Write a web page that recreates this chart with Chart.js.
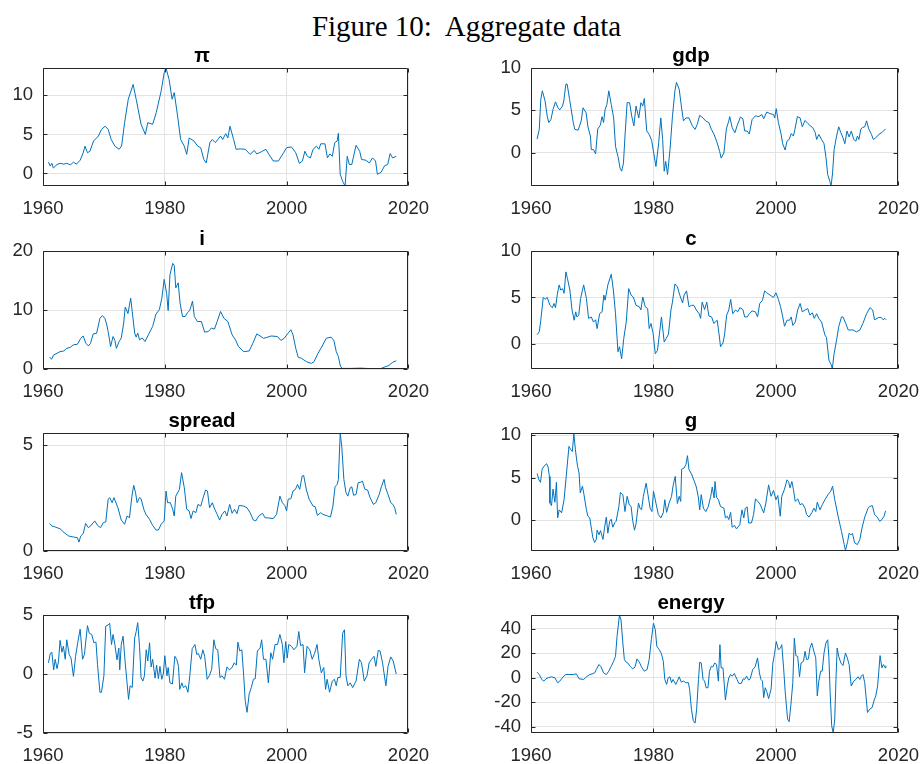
<!DOCTYPE html>
<html>
<head>
<meta charset="utf-8">
<title>Figure 10: Aggregate data</title>
<script src="https://cdn.jsdelivr.net/npm/chart.js@4.4.1/dist/chart.umd.min.js"></script>
<style>
  body { margin: 0; background: #fff; width: 924px; height: 764px; position: relative; overflow: hidden; }
  #figTitle {
    position: absolute; left: 0; top: 12px; width: 933px; text-align: center;
    font-family: "Liberation Serif", serif; font-size: 29px; line-height: 29px; color: #000;
  }
  canvas { position: absolute; }
</style>
</head>
<body>
<div id="figTitle">Figure 10:&nbsp; Aggregate data</div>
<script>
// x axis (years) shared by every panel
const xTicks = [1960, 1980, 2000, 2020];
const xRange = [1960, 2020];

// inflation
const piData = [[1960.9,1.45],[1961.2,0.95],[1961.45,1.3],[1961.7,0.7],[1962.3,1.15],[1962.8,1.3],[1963.4,1.2],[1963.9,1.3],[1964.5,1.1],[1965.0,1.45],[1965.5,1.2],[1966.1,1.7],[1966.6,2.65],[1966.9,3.5],[1967.3,2.65],[1967.7,2.85],[1968.3,4.15],[1969.1,4.8],[1969.6,5.65],[1970.2,6.05],[1970.7,5.65],[1971.2,4.35],[1971.8,3.5],[1972.5,3.1],[1972.9,3.5],[1973.4,6.5],[1974.0,9.5],[1974.8,11.4],[1975.3,9.5],[1976.1,6.3],[1976.8,5.0],[1977.2,6.5],[1978.0,6.3],[1978.6,7.8],[1979.4,10.55],[1979.9,12.9],[1980.2,13.5],[1980.7,12.05],[1981.2,9.5],[1981.55,10.35],[1982.1,7.35],[1982.6,4.35],[1983.2,3.5],[1983.6,2.45],[1984.0,4.55],[1984.8,4.15],[1985.4,3.5],[1985.9,3.3],[1986.4,1.8],[1986.8,1.35],[1987.4,3.95],[1987.8,4.35],[1988.3,3.95],[1989.15,4.8],[1989.5,4.35],[1990.0,5.1],[1990.35,4.55],[1990.7,6.05],[1991.3,4.35],[1991.7,3.1],[1992.4,3.15],[1993.2,3.1],[1994.0,2.45],[1994.7,2.95],[1995.1,2.5],[1995.9,2.8],[1996.6,3.1],[1997.1,2.45],[1997.8,1.6],[1998.65,1.6],[1999.5,2.65],[2000.0,3.3],[2000.8,3.4],[2001.5,2.65],[2002.1,1.3],[2002.6,1.6],[2003.0,2.85],[2003.4,2.2],[2003.9,2.0],[2004.35,3.1],[2004.9,3.5],[2005.3,3.1],[2005.6,3.8],[2006.3,3.8],[2006.7,2.0],[2007.1,2.5],[2007.5,2.2],[2007.9,3.95],[2008.3,4.15],[2008.5,5.15],[2008.8,-0.1],[2009.2,-1.0],[2009.6,-1.6],[2009.95,2.2],[2010.3,1.15],[2010.7,1.15],[2011.4,3.6],[2012.0,2.85],[2012.3,1.8],[2013.0,1.7],[2013.6,1.35],[2014.1,2.0],[2014.6,1.6],[2014.9,-0.1],[2015.5,0.15],[2016.1,1.0],[2016.6,1.15],[2017.0,2.55],[2017.4,2.0],[2018.0,2.2]];
const piTicks = [0, 5, 10];
const piRange = [-1.6, 13.5];

// output growth
const gdpData = [[1961.0,1.6],[1961.35,2.75],[1961.6,6.3],[1961.85,7.3],[1962.3,6.1],[1962.65,4.3],[1962.9,3.55],[1963.25,3.9],[1963.6,5.1],[1964.0,6.0],[1964.4,5.3],[1964.7,5.05],[1965.15,5.5],[1965.35,6.1],[1965.7,8.1],[1965.9,8.1],[1966.3,6.3],[1966.9,3.55],[1967.15,2.75],[1967.7,2.65],[1968.2,3.75],[1968.5,5.3],[1969.0,4.7],[1969.3,3.05],[1969.7,1.95],[1969.85,0.35],[1970.2,0.35],[1970.55,-0.15],[1970.9,2.8],[1971.3,3.2],[1971.6,4.25],[1971.85,3.55],[1972.1,5.1],[1972.4,5.7],[1972.7,7.3],[1973.1,5.7],[1973.5,4.1],[1973.8,0.75],[1974.2,-0.45],[1974.55,-1.85],[1974.8,-2.2],[1975.1,-1.25],[1975.35,1.95],[1975.7,5.9],[1976.1,5.9],[1976.45,4.3],[1976.8,3.15],[1977.15,5.5],[1977.6,4.1],[1977.95,5.9],[1978.25,5.5],[1978.5,6.4],[1978.9,2.55],[1979.3,2.15],[1979.7,1.45],[1980.4,-1.65],[1980.85,1.15],[1981.2,4.1],[1981.5,1.55],[1981.75,-2.2],[1982.0,-1.05],[1982.3,-2.6],[1982.7,0.35],[1983.1,4.3],[1983.5,7.3],[1983.75,8.3],[1984.2,7.5],[1984.55,5.5],[1984.9,3.75],[1985.3,4.1],[1985.8,4.1],[1986.35,3.15],[1986.8,2.75],[1987.15,3.35],[1987.55,4.4],[1988.1,4.1],[1988.5,3.75],[1989.05,3.55],[1989.45,2.75],[1989.9,2.15],[1990.4,1.15],[1990.8,0.15],[1991.05,-0.65],[1991.5,-0.05],[1991.9,2.8],[1992.3,3.75],[1992.45,4.25],[1992.85,2.95],[1993.3,2.35],[1993.65,3.15],[1994.2,4.2],[1994.6,4.0],[1994.9,2.55],[1995.3,2.55],[1995.65,2.2],[1996.1,3.9],[1996.65,4.35],[1997.2,4.25],[1997.7,4.5],[1998.0,4.0],[1998.5,4.8],[1999.05,4.6],[1999.6,4.5],[1999.8,4.1],[2000.05,5.2],[2000.4,3.55],[2000.85,2.15],[2001.1,1.05],[2001.5,0.3],[2001.8,1.35],[2002.15,1.55],[2002.5,2.25],[2002.85,1.95],[2003.1,2.75],[2003.5,4.25],[2003.95,4.1],[2004.3,3.05],[2004.75,3.8],[2005.2,3.45],[2005.55,3.2],[2006.0,2.95],[2006.4,2.4],[2006.65,1.55],[2007.0,2.15],[2007.45,1.55],[2007.85,1.05],[2008.15,-0.45],[2008.45,-2.6],[2008.8,-3.4],[2009.0,-3.95],[2009.25,-2.4],[2009.5,0.35],[2009.9,1.95],[2010.25,3.05],[2010.6,2.35],[2010.95,1.75],[2011.25,1.05],[2011.6,2.55],[2011.95,1.85],[2012.3,2.55],[2012.7,1.55],[2013.05,1.35],[2013.3,1.95],[2013.55,1.55],[2013.85,2.75],[2014.1,2.95],[2014.5,3.05],[2014.8,3.75],[2015.15,2.8],[2015.6,2.15],[2015.9,1.55],[2016.3,1.75],[2016.8,2.15],[2017.35,2.4],[2017.9,2.8]];
const gdpTicks = [0, 5, 10];
const gdpRange = [-3.95, 10];

// interest rate
const iData = [[1961.1,2.0],[1961.4,1.65],[1961.75,2.4],[1962.3,2.65],[1962.8,2.95],[1963.4,3.05],[1963.9,3.5],[1964.45,3.65],[1965.0,4.1],[1965.65,4.2],[1966.2,5.2],[1966.6,5.6],[1967.05,4.35],[1967.45,3.9],[1967.8,4.35],[1968.25,5.95],[1968.8,6.05],[1969.35,8.6],[1969.75,9.05],[1970.15,8.6],[1970.4,7.8],[1970.7,6.35],[1971.1,3.8],[1971.5,5.5],[1971.8,4.85],[1972.05,3.5],[1972.5,4.65],[1972.85,5.25],[1973.25,7.8],[1973.5,10.5],[1973.95,9.4],[1974.4,12.0],[1974.65,9.75],[1975.05,6.1],[1975.3,5.4],[1975.55,6.1],[1975.85,4.95],[1976.3,5.25],[1976.75,4.65],[1977.3,5.8],[1978.0,7.2],[1978.55,9.3],[1979.1,10.05],[1979.5,11.9],[1979.9,15.2],[1980.3,12.8],[1980.55,9.9],[1980.85,16.0],[1981.3,17.9],[1981.55,17.55],[1981.8,13.75],[1982.2,14.6],[1982.5,11.2],[1982.9,8.9],[1983.35,8.9],[1983.7,9.5],[1984.1,9.95],[1984.55,11.5],[1984.85,8.9],[1985.35,8.05],[1986.0,8.05],[1986.55,6.25],[1987.15,6.35],[1987.65,6.95],[1988.15,6.75],[1988.6,8.05],[1989.15,9.75],[1989.7,8.6],[1990.35,8.05],[1991.05,5.8],[1991.6,4.95],[1992.1,3.8],[1992.95,2.95],[1993.85,3.05],[1994.45,4.35],[1995.1,5.95],[1995.65,5.6],[1996.2,5.2],[1996.75,5.35],[1997.45,5.6],[1998.5,5.5],[1999.05,4.85],[1999.6,5.2],[2000.15,5.95],[2000.7,6.65],[2001.05,5.8],[2001.5,3.5],[2001.9,2.0],[2002.45,1.8],[2003.25,1.25],[2004.05,0.95],[2004.5,1.25],[2005.15,2.65],[2005.85,3.9],[2006.5,5.2],[2007.3,5.4],[2007.75,4.85],[2008.15,2.95],[2008.5,2.1],[2008.85,0.4],[2009.2,0.1],[2010.55,0.1],[2012.2,0.15],[2013.8,0.06],[2015.45,0.06],[2016.0,0.3],[2016.8,0.6],[2017.35,1.1],[2018.0,1.4]];
const iTicks = [0, 10, 20];
const iRange = [0, 20];

// consumption growth
const cData = [[1961.0,1.0],[1961.35,1.3],[1961.6,2.55],[1962.0,5.0],[1962.3,4.8],[1962.65,5.0],[1963.1,4.15],[1963.5,3.9],[1963.75,4.35],[1964.0,3.9],[1964.3,5.35],[1964.6,6.35],[1964.85,5.8],[1965.15,5.95],[1965.4,5.45],[1965.7,7.75],[1965.95,7.05],[1966.35,5.8],[1966.7,3.65],[1967.05,2.55],[1967.3,3.45],[1967.5,2.9],[1967.8,3.1],[1968.1,4.9],[1968.6,6.35],[1969.05,4.9],[1969.4,2.75],[1969.85,2.9],[1970.2,2.35],[1970.55,2.6],[1970.8,1.65],[1971.2,3.25],[1971.6,3.45],[1971.9,5.25],[1972.1,4.7],[1972.55,6.35],[1973.1,7.5],[1973.45,5.8],[1973.8,3.25],[1974.2,-0.85],[1974.45,-0.3],[1974.8,-1.6],[1975.15,0.6],[1975.55,2.35],[1975.95,5.95],[1976.35,5.25],[1976.7,5.05],[1977.15,4.15],[1977.7,4.0],[1977.95,3.65],[1978.25,5.05],[1978.65,4.0],[1979.05,3.8],[1979.3,1.65],[1979.6,2.2],[1979.95,1.1],[1980.3,-1.05],[1980.65,-0.7],[1981.05,1.5],[1981.3,2.9],[1981.75,0.2],[1982.1,0.6],[1982.45,1.05],[1982.85,3.65],[1983.1,4.5],[1983.5,6.45],[1983.9,6.15],[1984.3,5.25],[1984.75,4.4],[1985.0,5.25],[1985.4,5.7],[1985.8,4.0],[1986.2,4.15],[1986.6,4.15],[1987.0,3.65],[1987.45,3.25],[1987.7,2.75],[1987.95,4.5],[1988.35,3.7],[1988.7,4.5],[1989.05,3.0],[1989.5,2.9],[1989.85,2.2],[1990.4,2.55],[1990.7,1.1],[1990.95,-0.3],[1991.35,0.1],[1991.6,0.95],[1991.95,3.1],[1992.3,3.65],[1992.6,4.8],[1992.95,3.25],[1993.4,3.65],[1993.75,3.45],[1994.1,3.9],[1994.6,3.7],[1994.9,2.9],[1995.3,2.9],[1995.65,3.25],[1996.1,3.55],[1996.65,3.45],[1997.0,2.9],[1997.35,4.35],[1997.8,4.7],[1998.15,5.7],[1998.5,5.5],[1999.05,5.25],[1999.6,5.0],[2000.0,5.5],[2000.4,4.8],[2000.75,4.0],[2001.05,3.1],[2001.4,1.9],[2001.8,2.55],[2002.2,2.55],[2002.5,2.9],[2002.75,2.0],[2003.15,2.35],[2003.55,3.65],[2003.95,4.35],[2004.3,3.45],[2004.75,3.65],[2005.2,3.8],[2005.55,3.1],[2005.95,3.35],[2006.25,2.75],[2006.65,3.25],[2007.0,2.75],[2007.45,2.35],[2008.0,0.95],[2008.25,0.7],[2008.65,-1.75],[2009.0,-2.2],[2009.2,-2.65],[2009.5,-1.05],[2009.9,0.4],[2010.25,1.85],[2010.7,2.9],[2010.95,2.9],[2011.4,2.2],[2011.8,1.5],[2012.6,1.5],[2013.15,1.3],[2013.7,1.5],[2014.2,2.2],[2014.8,3.25],[2015.35,3.9],[2015.8,3.65],[2016.1,2.6],[2016.8,2.85],[2017.2,2.85],[2017.5,2.6],[2017.8,2.75],[2018.0,2.6]];
const cTicks = [0, 5, 10];
const cRange = [-2.7, 10];

// credit spread
const spreadData = [[1961.1,1.3],[1961.45,1.18],[1961.85,1.15],[1962.3,1.1],[1962.8,1.05],[1963.5,0.86],[1964.2,0.71],[1965.0,0.66],[1965.65,0.63],[1965.9,0.42],[1966.2,0.71],[1966.6,0.82],[1967.0,1.3],[1967.45,1.1],[1967.8,1.18],[1968.5,1.42],[1968.95,1.21],[1969.45,1.1],[1969.9,1.34],[1970.3,1.37],[1970.7,2.44],[1970.95,2.52],[1971.35,2.28],[1971.65,2.52],[1972.3,2.04],[1972.85,1.46],[1973.4,1.26],[1973.8,1.65],[1974.2,1.57],[1974.6,2.59],[1974.9,3.1],[1975.2,2.75],[1975.45,2.28],[1975.85,2.52],[1976.1,2.47],[1976.55,1.97],[1976.9,1.73],[1977.5,1.49],[1978.0,1.21],[1978.55,0.99],[1978.95,0.99],[1979.4,1.26],[1979.9,1.42],[1980.2,2.83],[1980.45,2.28],[1980.9,2.28],[1981.3,1.97],[1981.55,1.65],[1981.8,2.59],[1982.4,2.91],[1982.75,3.7],[1983.2,2.99],[1983.6,1.97],[1984.0,1.89],[1984.3,1.53],[1984.65,1.89],[1985.1,1.81],[1985.45,2.2],[1985.9,2.12],[1986.3,2.52],[1986.7,2.88],[1987.0,2.83],[1987.35,2.04],[1987.8,2.28],[1988.2,1.97],[1988.6,1.73],[1989.0,1.46],[1989.4,1.73],[1989.85,1.89],[1990.2,1.65],[1990.65,2.2],[1991.05,1.78],[1991.45,1.97],[1991.85,1.76],[1992.2,2.15],[1992.95,2.12],[1993.5,2.04],[1994.0,1.81],[1994.55,1.46],[1994.95,1.42],[1995.4,1.65],[1996.05,1.78],[1996.45,1.57],[1997.0,1.56],[1997.8,1.53],[1998.35,1.73],[1998.9,2.59],[1999.3,2.28],[1999.7,2.15],[2000.0,1.89],[2000.25,2.44],[2000.7,2.47],[2001.05,2.83],[2001.45,2.91],[2001.8,3.14],[2002.15,2.91],[2002.55,3.54],[2002.8,3.57],[2003.25,2.88],[2003.7,2.44],[2004.35,2.12],[2004.7,2.09],[2005.05,1.68],[2005.6,1.81],[2005.95,1.73],[2006.75,1.65],[2007.2,1.6],[2007.6,2.12],[2007.95,3.03],[2008.3,3.14],[2008.5,3.38],[2008.8,5.57],[2009.05,4.95],[2009.4,3.38],[2009.75,2.75],[2010.05,2.59],[2010.45,2.99],[2010.7,3.03],[2011.0,2.63],[2011.4,2.67],[2011.75,3.22],[2012.2,3.25],[2012.45,3.3],[2012.85,2.91],[2013.3,2.88],[2013.7,2.52],[2014.25,2.2],[2014.65,2.28],[2015.2,2.67],[2015.55,3.03],[2016.0,3.38],[2016.25,2.99],[2016.65,2.67],[2017.1,2.28],[2017.45,2.2],[2017.75,2.04],[2018.0,1.73]];
const spreadTicks = [0, 5];
const spreadRange = [0, 5.57];

// government spending growth
const gData = [[1961.0,5.5],[1961.3,4.75],[1961.55,4.45],[1961.8,5.95],[1962.1,6.35],[1962.55,6.65],[1962.8,6.25],[1963.0,5.15],[1963.1,2.0],[1963.35,1.7],[1963.6,3.65],[1963.9,2.1],[1964.15,4.45],[1964.35,0.25],[1964.6,1.2],[1965.0,0.85],[1965.4,2.4],[1965.8,5.55],[1966.2,8.7],[1966.5,8.3],[1966.75,8.1],[1967.0,10.2],[1967.25,8.3],[1967.6,6.35],[1967.85,5.55],[1968.05,3.2],[1968.4,4.0],[1968.65,3.0],[1969.05,1.2],[1969.3,0.45],[1969.6,0.25],[1969.85,-0.95],[1970.1,-2.1],[1970.4,-2.65],[1970.65,-2.3],[1970.8,-1.2],[1971.1,-1.75],[1971.35,-1.25],[1971.75,-2.3],[1972.0,-0.95],[1972.3,0.35],[1972.55,-1.55],[1972.85,-0.15],[1973.1,0.1],[1973.35,-0.85],[1973.7,-0.3],[1973.9,-0.15],[1974.35,1.6],[1974.6,3.25],[1975.0,3.0],[1975.35,1.0],[1975.7,2.8],[1976.05,1.8],[1976.35,1.6],[1976.6,-0.05],[1976.9,-1.2],[1977.15,-0.45],[1977.55,2.0],[1977.8,1.4],[1978.05,1.2],[1978.35,2.8],[1978.8,4.35],[1979.1,3.0],[1979.45,1.4],[1979.75,1.0],[1980.0,3.4],[1980.4,2.0],[1980.8,0.65],[1981.2,0.25],[1981.6,0.85],[1981.85,2.4],[1982.15,0.9],[1982.55,2.0],[1982.95,2.8],[1983.2,4.05],[1983.55,5.15],[1983.9,1.95],[1984.2,2.8],[1984.45,2.2],[1984.6,6.0],[1985.0,6.15],[1985.3,6.55],[1985.55,7.6],[1985.8,5.95],[1986.2,5.45],[1986.6,4.7],[1987.0,3.9],[1987.35,2.6],[1987.55,1.2],[1987.8,3.0],[1988.15,1.4],[1988.55,1.0],[1988.95,1.6],[1989.35,2.8],[1989.6,3.9],[1989.9,2.6],[1990.05,4.55],[1990.3,2.7],[1990.6,2.4],[1990.95,1.6],[1991.5,1.4],[1991.75,0.25],[1992.05,0.45],[1992.3,0.05],[1992.6,0.9],[1992.85,-0.85],[1993.25,-0.65],[1993.55,-1.05],[1994.1,-0.55],[1994.45,1.2],[1994.75,0.25],[1995.0,1.4],[1995.3,1.55],[1995.55,-0.35],[1996.0,-0.35],[1996.35,0.65],[1996.65,2.5],[1997.05,2.2],[1997.45,1.8],[1998.0,0.85],[1998.35,2.0],[1998.8,4.15],[1999.2,2.8],[1999.6,3.5],[2000.0,2.4],[2000.3,2.9],[2000.7,0.45],[2000.95,2.8],[2001.4,3.65],[2001.8,4.75],[2002.05,4.55],[2002.3,3.8],[2002.6,4.55],[2002.85,3.6],[2003.15,2.2],[2003.55,2.5],[2003.95,1.8],[2004.3,1.95],[2004.75,1.4],[2005.0,0.65],[2005.4,0.35],[2005.85,0.85],[2006.2,1.4],[2006.5,1.0],[2006.75,2.1],[2007.2,1.2],[2007.55,1.8],[2008.0,2.4],[2008.55,3.05],[2008.95,3.4],[2009.25,4.0],[2009.6,2.4],[2010.15,0.45],[2010.7,-1.35],[2011.15,-2.9],[2011.35,-3.6],[2011.7,-2.55],[2011.95,-1.55],[2012.2,-1.75],[2012.5,-1.6],[2012.85,-2.7],[2013.3,-2.9],[2013.7,-2.3],[2014.05,-0.95],[2014.5,0.35],[2015.05,1.4],[2015.3,1.6],[2015.75,1.7],[2016.1,0.65],[2016.55,0.35],[2016.95,-0.15],[2017.3,0.05],[2017.65,0.45],[2017.9,1.1]];
const gTicks = [0, 5, 10];
const gRange = [-3.66, 10.28];

// total factor productivity growth
const tfpData = [[1960.9,0.95],[1961.2,1.75],[1961.45,1.85],[1961.75,0.35],[1962.0,1.25],[1962.3,0.45],[1962.55,1.1],[1962.8,2.85],[1963.1,1.85],[1963.35,2.35],[1963.65,1.25],[1963.9,2.9],[1964.3,1.65],[1964.6,1.35],[1965.0,-0.2],[1965.35,1.5],[1965.7,2.65],[1966.1,3.8],[1966.5,1.25],[1966.8,1.65],[1967.3,4.1],[1967.6,3.45],[1968.0,3.35],[1968.35,2.65],[1968.7,2.7],[1968.95,0.8],[1969.35,-1.55],[1969.6,-1.55],[1970.0,-0.15],[1970.3,4.05],[1970.7,4.15],[1970.95,4.3],[1971.25,2.5],[1971.5,3.35],[1971.8,2.5],[1972.15,1.2],[1972.45,2.2],[1972.6,0.35],[1972.85,2.5],[1973.15,3.2],[1973.5,0.95],[1973.8,-0.75],[1974.05,-2.15],[1974.3,-1.0],[1974.65,-1.15],[1975.05,3.05],[1975.3,3.6],[1975.55,4.35],[1975.85,2.35],[1976.1,-0.3],[1976.4,-0.6],[1976.65,-0.15],[1976.95,2.05],[1977.2,1.1],[1977.5,2.65],[1977.75,0.6],[1978.0,1.25],[1978.4,-0.35],[1978.65,0.75],[1978.95,-0.4],[1979.2,0.65],[1979.5,-0.45],[1979.75,0.0],[1980.0,1.55],[1980.35,-0.15],[1980.55,0.55],[1980.85,-0.75],[1981.25,-0.85],[1981.65,1.5],[1981.95,1.25],[1982.25,0.65],[1982.45,-1.3],[1982.8,-0.75],[1983.05,-1.15],[1983.45,-1.0],[1983.8,-1.55],[1984.1,-0.15],[1984.5,2.15],[1984.95,2.5],[1985.25,1.65],[1985.5,1.75],[1985.9,1.25],[1986.25,2.05],[1986.55,1.5],[1986.95,-0.45],[1987.35,-0.1],[1987.7,0.4],[1988.05,2.9],[1988.35,2.15],[1988.7,2.05],[1989.05,-0.3],[1989.4,-0.15],[1989.8,-0.45],[1990.2,0.6],[1990.6,0.35],[1991.05,0.55],[1991.4,0.95],[1991.75,0.75],[1992.0,2.7],[1992.3,1.95],[1992.65,2.05],[1992.95,-0.15],[1993.2,-2.25],[1993.5,-3.25],[1993.85,-1.7],[1994.2,-1.15],[1994.55,-0.45],[1994.85,-0.4],[1995.2,1.95],[1995.65,2.2],[1995.9,2.9],[1996.2,1.25],[1996.6,1.25],[1997.0,-0.75],[1997.4,1.8],[1997.7,1.25],[1998.1,2.5],[1998.5,2.5],[1998.9,3.35],[1999.3,2.5],[1999.55,0.95],[1999.85,2.75],[2000.1,1.35],[2000.35,2.5],[2000.8,2.35],[2001.2,2.05],[2001.7,2.35],[2002.0,3.6],[2002.3,2.4],[2002.7,2.5],[2002.95,0.1],[2003.35,2.35],[2003.8,2.05],[2004.2,1.25],[2004.6,1.75],[2005.0,2.5],[2005.3,1.2],[2005.7,0.1],[2006.1,0.55],[2006.4,-1.3],[2006.65,-0.45],[2007.05,-1.55],[2007.5,-0.6],[2007.85,-0.45],[2008.15,-1.0],[2008.4,-0.3],[2008.8,-0.3],[2009.2,3.45],[2009.5,3.75],[2009.75,-0.15],[2010.05,-1.0],[2010.45,-0.75],[2010.85,-1.15],[2011.4,-0.6],[2011.95,1.25],[2012.3,0.95],[2012.75,-0.6],[2013.2,-0.15],[2013.55,0.95],[2013.95,1.25],[2014.35,1.5],[2014.65,0.65],[2015.05,2.0],[2015.35,1.95],[2015.75,0.95],[2016.3,-1.0],[2016.65,0.65],[2017.1,1.45],[2017.5,1.1],[2018.0,0.0]];
const tfpTicks = [-5, 0, 5];
const tfpRange = [-5, 5];

// energy prices
const energyData = [[1961.0,4.6],[1961.35,2.7],[1961.75,-1.35],[1962.1,-2.7],[1962.45,-0.8],[1962.8,0.0],[1963.35,0.8],[1963.9,0.0],[1964.35,-4.0],[1964.7,-2.7],[1965.25,0.8],[1965.7,2.7],[1966.35,2.7],[1966.9,2.7],[1967.4,3.2],[1967.85,-0.8],[1968.6,-1.35],[1969.05,0.8],[1969.6,2.7],[1970.0,3.2],[1970.4,4.0],[1970.65,6.7],[1971.1,10.8],[1971.45,8.9],[1971.85,4.0],[1972.3,2.7],[1972.7,5.4],[1973.1,9.4],[1973.5,13.5],[1973.8,17.5],[1974.05,33.7],[1974.45,51.2],[1974.7,47.2],[1975.0,28.3],[1975.25,14.8],[1975.55,12.7],[1975.8,12.1],[1976.2,9.4],[1976.6,7.3],[1977.0,8.9],[1977.3,15.4],[1977.7,12.7],[1978.05,8.9],[1978.5,5.4],[1978.95,6.7],[1979.3,14.8],[1979.65,31.0],[1980.0,44.5],[1980.3,39.1],[1980.55,25.6],[1980.95,22.9],[1981.3,19.7],[1981.6,13.5],[1981.85,-1.35],[1982.15,-5.4],[1982.4,0.0],[1982.7,0.8],[1982.95,-4.0],[1983.2,-1.35],[1983.65,-5.4],[1983.9,-2.7],[1984.2,0.8],[1984.55,-3.5],[1984.9,-2.7],[1985.3,-4.0],[1985.7,-4.0],[1985.9,-9.4],[1986.2,-25.6],[1986.5,-35.0],[1986.8,-36.9],[1987.05,-25.6],[1987.35,-1.35],[1987.55,12.7],[1987.8,12.1],[1988.1,-1.35],[1988.35,-2.7],[1988.6,-8.1],[1988.9,-8.1],[1989.15,5.4],[1989.45,9.4],[1989.7,8.9],[1990.0,12.1],[1990.3,10.8],[1990.6,-2.7],[1990.85,27.0],[1991.05,8.1],[1991.35,8.1],[1991.75,-18.1],[1992.05,-6.7],[1992.3,0.0],[1992.6,2.7],[1992.85,1.35],[1993.2,3.5],[1993.65,-1.35],[1993.95,-4.6],[1994.35,-4.6],[1994.65,-0.8],[1994.9,-1.35],[1995.2,1.35],[1995.55,-1.9],[1995.8,-0.8],[1996.2,6.7],[1996.6,8.9],[1997.0,16.2],[1997.3,4.0],[1997.55,-1.35],[1997.8,-2.7],[1998.0,-16.2],[1998.25,-8.1],[1998.55,-12.1],[1998.8,-17.0],[1999.2,-9.4],[1999.5,12.1],[1999.75,18.9],[2000.05,29.6],[2000.4,22.9],[2000.75,24.3],[2000.95,27.0],[2001.25,8.1],[2001.5,-10.8],[2001.9,-33.7],[2002.15,-35.8],[2002.45,-21.6],[2002.75,-4.0],[2003.0,32.3],[2003.25,18.1],[2003.55,17.5],[2003.85,0.8],[2004.1,12.1],[2004.5,13.5],[2004.75,21.6],[2005.0,14.8],[2005.3,15.4],[2005.55,24.3],[2005.85,28.3],[2006.2,21.6],[2006.5,16.2],[2006.75,-14.8],[2007.0,-2.7],[2007.3,5.4],[2007.55,5.4],[2007.85,20.2],[2008.15,28.3],[2008.45,31.0],[2008.65,16.2],[2008.85,-12.1],[2009.1,-39.1],[2009.35,-45.0],[2009.6,-33.7],[2009.8,-1.35],[2010.0,24.3],[2010.25,17.5],[2010.6,12.1],[2010.95,10.0],[2011.35,20.2],[2011.65,16.2],[2011.95,10.8],[2012.3,-6.7],[2012.7,-2.7],[2013.05,-1.35],[2013.4,0.8],[2013.7,-1.35],[2013.95,1.35],[2014.2,2.7],[2014.5,-4.0],[2014.95,-28.3],[2015.3,-25.6],[2015.7,-24.3],[2016.05,-18.1],[2016.3,-14.8],[2016.6,-6.7],[2016.8,5.4],[2017.0,18.1],[2017.3,8.1],[2017.55,10.8],[2017.85,8.1],[2017.95,10.0]];
const energyTicks = [-40, -20, 0, 20, 40];
const energyRange = [-45, 51.2];

// layout of the 4x2 grid of axes (page pixels)
const colLeft = [43, 531];
const colWidth = [368, 370];
const rowTop = [68, 251, 433, 615];
const plotHeight = 118;
const yAxisWidth = 50;
const titleBlock = 40;
const xAxisHeight = 45;
const rightPad = 30;

const panels = [
  { title: "\u03c0", data: piData, ticks: piTicks, range: piRange, row: 0, col: 0 },
  { title: "gdp", data: gdpData, ticks: gdpTicks, range: gdpRange, row: 0, col: 1 },
  { title: "i", data: iData, ticks: iTicks, range: iRange, row: 1, col: 0 },
  { title: "c", data: cData, ticks: cTicks, range: cRange, row: 1, col: 1 },
  { title: "spread", data: spreadData, ticks: spreadTicks, range: spreadRange, row: 2, col: 0 },
  { title: "g", data: gData, ticks: gTicks, range: gRange, row: 2, col: 1 },
  { title: "tfp", data: tfpData, ticks: tfpTicks, range: tfpRange, row: 3, col: 0 },
  { title: "energy", data: energyData, ticks: energyTicks, range: energyRange, row: 3, col: 1 },
];

const axisColor = "#262626";
const gridColor = "#e3e3e3";
const lineColor = "#0072BD";
const tickFont = { family: "'Liberation Sans', Arial, sans-serif", size: 18.5 };

// box around the axes with inward tick marks, like MATLAB
const boxPlugin = {
  id: "matlabBox",
  afterDatasetsDraw(chart) {
    const { ctx, chartArea, scales } = chart;
    const left = Math.round(chartArea.left) + 0.5;
    const right = Math.round(chartArea.right) - 0.5;
    const top = Math.round(chartArea.top) + 0.5;
    const bottom = Math.round(chartArea.bottom) - 0.5;
    ctx.save();
    ctx.strokeStyle = axisColor;
    ctx.lineWidth = 1;
    ctx.beginPath();
    ctx.rect(left, top, right - left, bottom - top);
    scales.x.ticks.forEach((t) => {
      const px = Math.round(scales.x.getPixelForValue(t.value)) + 0.5;
      ctx.moveTo(px, bottom);
      ctx.lineTo(px, bottom - 4);
      ctx.moveTo(px, top);
      ctx.lineTo(px, top + 4);
    });
    scales.y.ticks.forEach((t) => {
      const py = Math.round(scales.y.getPixelForValue(t.value)) + 0.5;
      ctx.moveTo(left, py);
      ctx.lineTo(left + 4, py);
      ctx.moveTo(right, py);
      ctx.lineTo(right - 4, py);
    });
    ctx.stroke();
    ctx.restore();
  },
};

function drawPanel(p) {
  const canvas = document.createElement("canvas");
  const w = colWidth[p.col] + yAxisWidth + rightPad;
  const h = plotHeight + titleBlock + xAxisHeight;
  canvas.width = w;
  canvas.height = h;
  canvas.style.left = colLeft[p.col] - yAxisWidth + "px";
  canvas.style.top = rowTop[p.row] - titleBlock + "px";
  document.body.appendChild(canvas);

  new Chart(canvas.getContext("2d"), {
    type: "line",
    data: {
      datasets: [
        {
          data: p.data.map(([x, y]) => ({ x: x, y: y })),
          borderColor: lineColor,
          borderWidth: 1,
          pointRadius: 0,
          tension: 0,
          fill: false,
        },
      ],
    },
    options: {
      responsive: false,
      animation: false,
      devicePixelRatio: 1,
      layout: { padding: { top: 0, right: rightPad, bottom: 0, left: 0 } },
      plugins: {
        legend: { display: false },
        tooltip: { enabled: false },
        title: {
          display: true,
          text: p.title,
          color: "#000",
          font: { family: "'Liberation Sans', Arial, sans-serif", size: 20.5, weight: "bold", lineHeight: 1 },
          padding: { top: 18.5, bottom: 1 },
        },
      },
      scales: {
        x: {
          type: "linear",
          min: xRange[0],
          max: xRange[1],
          afterFit: (s) => { s.height = xAxisHeight; },
          afterBuildTicks: (s) => { s.ticks = xTicks.map((v) => ({ value: v })); },
          grid: { color: gridColor, drawTicks: false },
          border: { display: false },
          ticks: {
            color: axisColor,
            font: tickFont,
            padding: 12,
            maxRotation: 0,
            autoSkip: false,
            callback: (v) => String(v),
          },
        },
        y: {
          type: "linear",
          min: p.range[0],
          max: p.range[1],
          afterFit: (s) => { s.width = yAxisWidth; },
          afterBuildTicks: (s) => { s.ticks = p.ticks.map((v) => ({ value: v })); },
          grid: { color: gridColor, drawTicks: false },
          border: { display: false },
          ticks: {
            color: axisColor,
            font: tickFont,
            padding: 10,
            autoSkip: false,
            callback: (v) => String(v),
          },
        },
      },
    },
    plugins: [boxPlugin],
  });
}

panels.forEach(drawPanel);
</script>
</body>
</html>
